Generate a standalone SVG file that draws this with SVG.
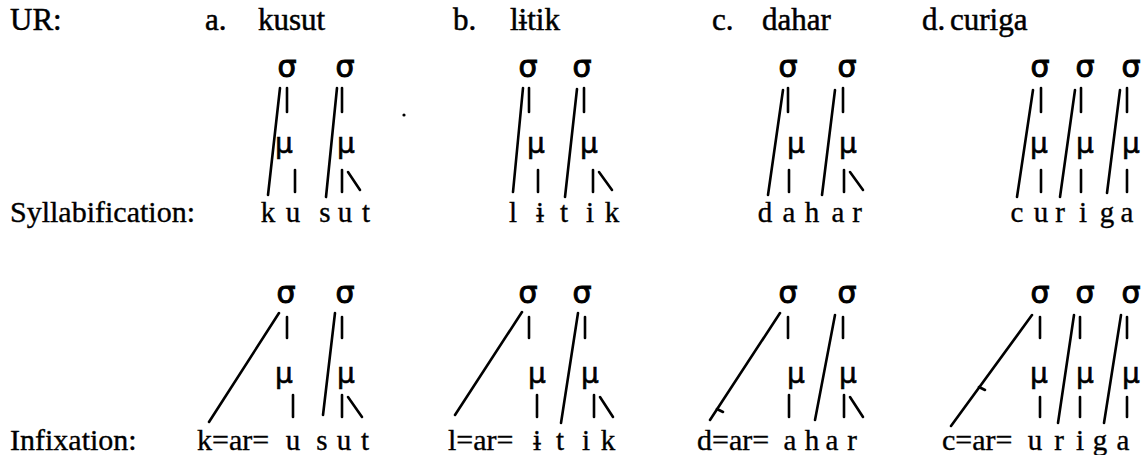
<svg xmlns="http://www.w3.org/2000/svg" width="1142" height="455" viewBox="0 0 1142 455">
<style>
.t{font-family:"Liberation Serif","Times New Roman",serif;font-size:30px;fill:#000;stroke:#000;stroke-width:0.35}
.h{font-family:"Liberation Serif","Times New Roman",serif;font-size:31px;fill:#000;stroke:#000;stroke-width:0.5}
.s{font-family:"Liberation Serif","Times New Roman",serif;font-size:29px;fill:#000;stroke:#000;stroke-width:0.35;text-anchor:middle}
.g{font-family:"DejaVu Sans",sans-serif;font-size:30px;fill:#000;stroke:#000;stroke-width:1;text-anchor:middle}
.m{font-family:"DejaVu Sans",sans-serif;font-size:28px;fill:#000;stroke:#000;stroke-width:0.6;text-anchor:middle}
.c line{stroke:#000;stroke-width:2.6;stroke-linecap:round}
</style>
<rect width="1142" height="455" fill="#fff"/>
<g id="labels">
<text class="h" x="10" y="30">UR:</text>
<text class="t" x="10" y="222">Syllabification:</text>
<text class="t" x="10" y="450">Infixation:</text>
</g>
<g id="headers">
<text class="h" x="205" y="30">a.</text><text class="h" x="258" y="30">kusut</text>
<text class="h" x="453" y="30">b.</text><text class="h" x="510" y="30">lɨtik</text>
<text class="h" x="712" y="30">c.</text><text class="h" x="762" y="30">dahar</text>
<text class="h" x="922" y="30">d.</text><text class="h" x="950" y="30">curiga</text>
</g>
<g id="tree-a-syl">
<text class="g" x="287" y="77">σ</text><text class="g" x="345" y="77">σ</text>
<text class="m" x="284" y="153">μ</text><text class="m" x="346" y="153">μ</text>
<text class="s" y="222"><tspan x="268">k</tspan><tspan x="293">u</tspan><tspan x="325">s</tspan><tspan x="345">u</tspan><tspan x="366">t</tspan></text>
</g>
<g id="tree-b-syl">
<text class="g" x="528" y="77">σ</text><text class="g" x="582" y="77">σ</text>
<text class="m" x="536" y="153">μ</text><text class="m" x="589" y="153">μ</text>
<text class="s" y="222"><tspan x="513">l</tspan><tspan x="540">ɨ</tspan><tspan x="564">t</tspan><tspan x="590">i</tspan><tspan x="612">k</tspan></text>
</g>
<g id="tree-c-syl">
<text class="g" x="788" y="77">σ</text><text class="g" x="847" y="77">σ</text>
<text class="m" x="796" y="153">μ</text><text class="m" x="848" y="153">μ</text>
<text class="s" y="222"><tspan x="765">d</tspan><tspan x="789">a</tspan><tspan x="812">h</tspan><tspan x="838">a</tspan><tspan x="857">r</tspan></text>
</g>
<g id="tree-d-syl">
<text class="g" x="1040" y="77">σ</text><text class="g" x="1085" y="77">σ</text><text class="g" x="1131" y="77">σ</text>
<text class="m" x="1039" y="153">μ</text><text class="m" x="1085" y="153">μ</text><text class="m" x="1131" y="153">μ</text>
<text class="s" y="222"><tspan x="1017">c</tspan><tspan x="1041">u</tspan><tspan x="1060">r</tspan><tspan x="1083">i</tspan><tspan x="1107">g</tspan><tspan x="1127">a</tspan></text>
</g>
<g id="tree-a-inf">
<text class="g" x="286" y="303">σ</text><text class="g" x="345" y="303">σ</text>
<text class="m" x="284" y="383">μ</text><text class="m" x="346" y="383">μ</text>
<text class="t" x="197" y="450">k=ar=</text>
<text class="s" y="450"><tspan x="293">u</tspan><tspan x="322">s</tspan><tspan x="344">u</tspan><tspan x="365">t</tspan></text>
</g>
<g id="tree-b-inf">
<text class="g" x="528" y="303">σ</text><text class="g" x="582" y="303">σ</text>
<text class="m" x="537" y="383">μ</text><text class="m" x="590" y="383">μ</text>
<text class="t" x="448" y="450">l=ar=</text>
<text class="s" y="450"><tspan x="537">ɨ</tspan><tspan x="560">t</tspan><tspan x="586">i</tspan><tspan x="608">k</tspan></text>
</g>
<g id="tree-c-inf">
<text class="g" x="788" y="303">σ</text><text class="g" x="847" y="303">σ</text>
<text class="m" x="796" y="383">μ</text><text class="m" x="848" y="383">μ</text>
<text class="t" x="697" y="450">d=ar=</text>
<text class="s" y="450"><tspan x="790">a</tspan><tspan x="812">h</tspan><tspan x="832">a</tspan><tspan x="852">r</tspan></text>
</g>
<g id="tree-d-inf">
<text class="g" x="1040" y="303">σ</text><text class="g" x="1085" y="303">σ</text><text class="g" x="1131" y="303">σ</text>
<text class="m" x="1039" y="383">μ</text><text class="m" x="1085" y="383">μ</text><text class="m" x="1131" y="383">μ</text>
<text class="t" x="942" y="450">c=ar=</text>
<text class="s" y="450"><tspan x="1035">u</tspan><tspan x="1059">r</tspan><tspan x="1080">i</tspan><tspan x="1100">g</tspan><tspan x="1123">a</tspan></text>
</g>
<g id="connectors" class="c">
<line x1="287" y1="88" x2="287" y2="112"/><line x1="342" y1="88" x2="342" y2="112"/>
<line x1="280" y1="88" x2="268" y2="195"/><line x1="337" y1="88" x2="326" y2="197"/>
<line x1="295" y1="170" x2="295" y2="192"/><line x1="342" y1="170" x2="342" y2="192"/><line x1="348" y1="172" x2="360" y2="190"/>
<line x1="529" y1="88" x2="529" y2="112"/><line x1="584" y1="88" x2="584" y2="112"/>
<line x1="523" y1="88" x2="513" y2="192"/><line x1="577" y1="89" x2="565" y2="197"/>
<line x1="538" y1="170" x2="538" y2="192"/><line x1="593" y1="170" x2="593" y2="192"/><line x1="599" y1="172" x2="612" y2="190"/>
<line x1="788" y1="88" x2="788" y2="112"/><line x1="843" y1="88" x2="843" y2="112"/>
<line x1="783" y1="90" x2="768" y2="195"/><line x1="835" y1="90" x2="822" y2="195"/>
<line x1="789" y1="170" x2="789" y2="192"/><line x1="844" y1="170" x2="844" y2="192"/><line x1="850" y1="172" x2="863" y2="190"/>
<line x1="1041" y1="88" x2="1041" y2="112"/><line x1="1081" y1="88" x2="1081" y2="112"/><line x1="1127" y1="88" x2="1127" y2="112"/>
<line x1="1033" y1="90" x2="1017" y2="197"/><line x1="1075" y1="90" x2="1060" y2="197"/><line x1="1120" y1="90" x2="1107" y2="193"/>
<line x1="1041" y1="170" x2="1041" y2="192"/><line x1="1081" y1="170" x2="1081" y2="192"/><line x1="1127" y1="170" x2="1127" y2="192"/>
<line x1="287" y1="317" x2="287" y2="338"/><line x1="342" y1="317" x2="342" y2="338"/>
<line x1="279" y1="313" x2="209" y2="422"/><line x1="335" y1="313" x2="323" y2="415"/>
<line x1="293" y1="395" x2="293" y2="417"/><line x1="342" y1="395" x2="342" y2="417"/><line x1="348" y1="397" x2="362" y2="417"/>
<line x1="529" y1="317" x2="529" y2="338"/><line x1="585" y1="317" x2="585" y2="338"/>
<line x1="522" y1="312" x2="455" y2="415"/><line x1="578" y1="313" x2="561" y2="423"/>
<line x1="537" y1="395" x2="537" y2="417"/><line x1="594" y1="395" x2="594" y2="417"/><line x1="600" y1="397" x2="613" y2="417"/>
<line x1="788" y1="317" x2="788" y2="338"/><line x1="843" y1="317" x2="843" y2="338"/>
<line x1="780" y1="313" x2="710" y2="420"/><line x1="835" y1="315" x2="815" y2="420"/>
<line x1="717" y1="409" x2="723" y2="412"/>
<line x1="789" y1="395" x2="789" y2="417"/><line x1="844" y1="395" x2="844" y2="417"/><line x1="850" y1="397" x2="863" y2="417"/>
<line x1="1040" y1="317" x2="1040" y2="338"/><line x1="1080" y1="317" x2="1080" y2="338"/><line x1="1127" y1="317" x2="1127" y2="338"/>
<line x1="1032" y1="315" x2="951" y2="426"/><line x1="1074" y1="315" x2="1058" y2="423"/><line x1="1121" y1="315" x2="1104" y2="423"/>
<line x1="979" y1="387" x2="985" y2="390"/>
<line x1="1040" y1="397" x2="1040" y2="417"/><line x1="1080" y1="397" x2="1080" y2="417"/><line x1="1127" y1="397" x2="1127" y2="417"/>
</g>
<circle cx="404" cy="115" r="1.6" fill="#000"/>
</svg>
